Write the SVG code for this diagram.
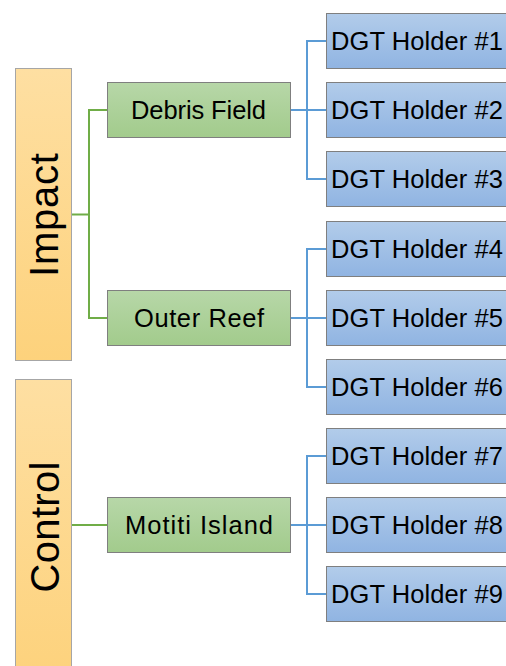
<svg xmlns="http://www.w3.org/2000/svg" width="506" height="666" viewBox="0 0 506 666">
<style>
.t{font-family:"Liberation Sans",Arial,sans-serif;fill:#000}
.big{font-size:40px}
.mid{font-size:25.5px}
.orange{fill:url(#gO);stroke:#A6A6A6;stroke-width:1}
.green{fill:url(#gG);stroke:#7F7F7F;stroke-width:1}
.blue{fill:url(#gB);stroke:#7F7F7F;stroke-width:1}
.lg{fill:none;stroke:#70AD47;stroke-width:2}
.lb{fill:none;stroke:#5B9BD5;stroke-width:2}
</style>
<defs>
<linearGradient id="gO" x1="0" y1="0" x2="0" y2="1"><stop offset="0" stop-color="#FEDFA2"/><stop offset="1" stop-color="#FDD27C"/></linearGradient>
<linearGradient id="gG" x1="0" y1="0" x2="0" y2="1"><stop offset="0" stop-color="#B7D7A8"/><stop offset="1" stop-color="#A2CB8C"/></linearGradient>
<linearGradient id="gB" x1="0" y1="0" x2="0" y2="1"><stop offset="0" stop-color="#B2CCEA"/><stop offset="1" stop-color="#90B4E2"/></linearGradient>
</defs>
<g id="connectors">
<path class="lg" d="M72 214.5H89M89 110V318M88 110H107M88 318H107"/>
<path class="lg" d="M72 525H107"/>
<path class="lb" d="M290 110H307M307 41V179M306 41H326M307 110H326M306 179H326"/>
<path class="lb" d="M290 318H307M307 249V387M306 249H326M307 318H326M306 387H326"/>
<path class="lb" d="M290 525H307M307 456V594M306 456H326M307 525H326M306 594H326"/>
</g>
<g id="impact"><rect class="orange" x="15.5" y="68.5" width="56" height="292"/><text class="t big" text-anchor="middle" transform="translate(57.5,215) rotate(-90)" textLength="124">Impact</text></g>
<g id="control"><rect class="orange" x="15.5" y="379.5" width="56" height="300"/><text class="t big" text-anchor="middle" transform="translate(58.5,527) rotate(-90)" textLength="131">Control</text></g>
<g id="debris"><rect class="green" x="107.5" y="82.5" width="183" height="55"/><text class="t mid" x="198.5" y="119" text-anchor="middle" textLength="135">Debris Field</text></g>
<g id="outer"><rect class="green" x="107.5" y="290.5" width="183" height="55"/><text class="t mid" x="199" y="327" text-anchor="middle" textLength="130">Outer Reef</text></g>
<g id="motiti"><rect class="green" x="107.5" y="497.5" width="183" height="55"/><text class="t mid" x="199" y="534" text-anchor="middle" textLength="148">Motiti Island</text></g>
<g id="h1"><rect class="blue" x="326.5" y="13.5" width="200" height="55"/><text class="t mid" x="331" y="50" textLength="172">DGT Holder #1</text></g>
<g id="h2"><rect class="blue" x="326.5" y="82.5" width="200" height="55"/><text class="t mid" x="331" y="119" textLength="172">DGT Holder #2</text></g>
<g id="h3"><rect class="blue" x="326.5" y="151.5" width="200" height="55"/><text class="t mid" x="331" y="188" textLength="172">DGT Holder #3</text></g>
<g id="h4"><rect class="blue" x="326.5" y="221.5" width="200" height="55"/><text class="t mid" x="331" y="258" textLength="172">DGT Holder #4</text></g>
<g id="h5"><rect class="blue" x="326.5" y="290.5" width="200" height="55"/><text class="t mid" x="331" y="327" textLength="172">DGT Holder #5</text></g>
<g id="h6"><rect class="blue" x="326.5" y="359.5" width="200" height="55"/><text class="t mid" x="331" y="396" textLength="172">DGT Holder #6</text></g>
<g id="h7"><rect class="blue" x="326.5" y="428.5" width="200" height="55"/><text class="t mid" x="331" y="465" textLength="172">DGT Holder #7</text></g>
<g id="h8"><rect class="blue" x="326.5" y="497.5" width="200" height="55"/><text class="t mid" x="331" y="534" textLength="172">DGT Holder #8</text></g>
<g id="h9"><rect class="blue" x="326.5" y="566.5" width="200" height="55"/><text class="t mid" x="331" y="603" textLength="172">DGT Holder #9</text></g>
</svg>
